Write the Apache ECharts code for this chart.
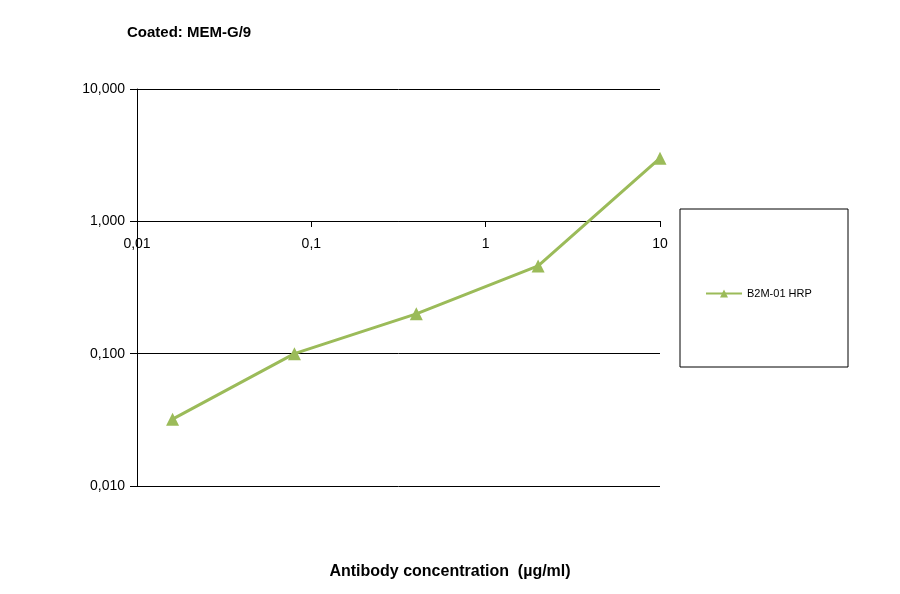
<!DOCTYPE html>
<html><head><meta charset="utf-8">
<script src="https://cdn.jsdelivr.net/npm/echarts@6/dist/echarts.min.js"></script>
<style>html,body{margin:0;background:#fff}#c{width:900px;height:594px}</style>
</head><body><div id="c"></div>
<script>
const concentrations = [0.016, 0.08, 0.4, 2, 10];
const absorbance = [0.032, 0.1, 0.2, 0.46, 3.0];
const seriesName = 'B2M-01 HRP';

const chart = echarts.init(document.getElementById('c'));
chart.setOption({
  textStyle: {fontFamily: 'Liberation Sans, Arial, sans-serif'},
  animation: false,
  title: {text: 'Coated: MEM-G/9', left: 122, top: 20,
    textStyle: {fontSize: 15, fontWeight: 'bold', color: '#000'}},
  grid: {left: 137, top: 89, width: 523, height: 397, containLabel: false, outerBoundsMode: 'none'},
  graphic: [
    {type: 'rect', shape: {x: 680, y: 209, width: 168, height: 158},
      style: {fill: 'none', stroke: '#000', lineWidth: 1}},
    {type: 'text', x: 450, y: 572,
      style: {text: 'Antibody concentration  (µg/ml)', fontSize: 16, fontWeight: 'bold',
        fill: '#000', align: 'center', verticalAlign: 'middle',
        fontFamily: 'Liberation Sans, Arial, sans-serif'}}
  ],
  legend: {left: 700, top: 283, itemWidth: 36, itemHeight: 10,
    data: [seriesName],
    textStyle: {fontSize: 11, color: '#000'}},
  xAxis: {type: 'log', min: 0.01, max: 10, logBase: 10, position: 'top', offset: -132,
    axisLine: {show: true, lineStyle: {color: '#000'}},
    axisTick: {show: true, inside: true, length: 6, lineStyle: {color: '#000'}},
    axisLabel: {inside: true, margin: 16, fontSize: 14, color: '#000',
      formatter: v => v >= 1 ? String(Math.round(v)) : String(v).replace('.', ',')},
    splitLine: {show: false}},
  yAxis: {type: 'log', min: 0.01, max: 10, logBase: 10,
    axisLine: {show: true, lineStyle: {color: '#000'}},
    axisTick: {show: true, length: 7, lineStyle: {color: '#000'}},
    axisLabel: {fontSize: 14, color: '#000', margin: 12,
      formatter: v => v.toFixed(3).replace('.', ',')},
    splitLine: {show: true, lineStyle: {color: '#000'}}},
  series: [{name: seriesName, type: 'line',
    data: concentrations.map((x, i) => [x, absorbance[i]]),
    symbol: 'triangle', symbolSize: 13,
    lineStyle: {color: '#9bbb59', width: 3},
    itemStyle: {color: '#9bbb59'}}]
});
</script></body></html>
